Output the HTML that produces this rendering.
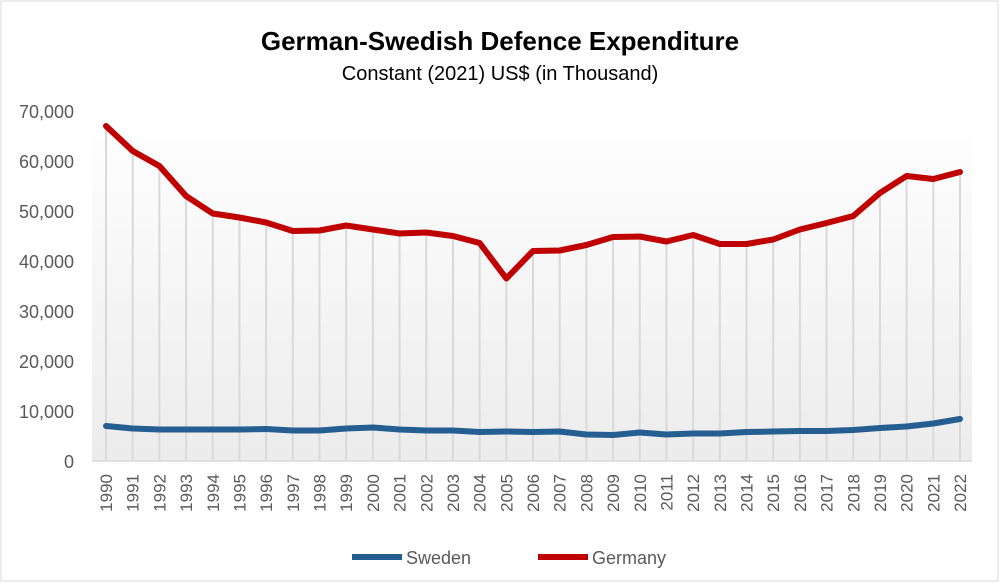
<!DOCTYPE html>
<html><head><meta charset="utf-8"><style>
body{margin:0;background:#fff;font-family:"Liberation Sans",sans-serif}
#wrap{position:relative;width:1000px;height:583px}
</style></head><body>
<div id="wrap">
<svg id="chart" width="1000" height="583">
<defs><linearGradient id="bg" x1="0" y1="0" x2="0" y2="1"><stop offset="0" stop-color="#ffffff"/><stop offset="1" stop-color="#ececec"/></linearGradient></defs>
<rect x="1" y="1" width="997" height="580" fill="#fff" stroke="#d9d9d9"/>
<text x="500" y="50" text-anchor="middle" font-size="26" font-weight="bold" fill="#000">German-Swedish Defence Expenditure</text>
<text x="500" y="80" text-anchor="middle" font-size="20" fill="#000">Constant (2021) US$ (in Thousand)</text>
<rect x="92" y="111" width="880" height="350" fill="url(#bg)"/>
<g id="grid"></g><g id="yt"></g><g id="xt"></g><g id="lines"></g>
<line x1="92" y1="461" x2="972" y2="461" stroke="#d9d9d9" stroke-width="1.5"/>
<g>
<line x1="352" y1="557" x2="402" y2="557" stroke="#255e91" stroke-width="6"/>
<text x="406" y="564" font-size="18" fill="#595959">Sweden</text>
<line x1="538" y1="557" x2="588" y2="557" stroke="#c00000" stroke-width="6"/>
<text x="592" y="564" font-size="18" fill="#595959">Germany</text>
</g>
</svg></div>
<script>
const years=[1990,1991,1992,1993,1994,1995,1996,1997,1998,1999,2000,2001,2002,2003,2004,2005,2006,2007,2008,2009,2010,2011,2012,2013,2014,2015,2016,2017,2018,2019,2020,2021,2022];
const germany=[67000,62000,59000,53000,49500,48700,47700,46000,46100,47100,46300,45500,45700,45000,43600,36500,42000,42100,43200,44800,44900,43900,45200,43400,43400,44300,46300,47600,49000,53600,57000,56400,57800];
const sweden=[7000,6500,6300,6300,6300,6300,6400,6100,6100,6500,6700,6300,6100,6100,5800,5900,5800,5900,5300,5200,5700,5300,5500,5500,5800,5900,6000,6000,6200,6600,6900,7500,8400];
const yTicks=[0,10000,20000,30000,40000,50000,60000,70000];
const NS="http://www.w3.org/2000/svg";
const x=i=>106+i*(854/(years.length-1));
const y=v=>461-v/70000*350;
function mk(t,a,p){const e=document.createElementNS(NS,t);for(const k in a)e.setAttribute(k,a[k]);document.getElementById(p).appendChild(e);return e;}
yTicks.forEach(v=>{const t=mk('text',{x:74,y:y(v)+7,'text-anchor':'end','font-size':18,fill:'#595959'},'yt');t.textContent=v.toLocaleString('en-US');

});
years.forEach((yr,i)=>{const l=mk('line',{x1:x(i),x2:x(i),y1:y(Math.max(germany[i],sweden[i])),y2:461,stroke:'#d9d9d9','stroke-width':2},'grid');


const t=mk('text',{x:0,y:0,'text-anchor':'end','font-size':17,fill:'#595959',transform:`translate(${x(i)+6},474) rotate(-90)`},'xt');t.textContent=yr;

});
function line(d,c,n){const p=mk('polyline',{points:d.map((v,i)=>x(i)+','+y(v)).join(' '),fill:'none',stroke:c,'stroke-width':6,'stroke-linejoin':'round','stroke-linecap':'round'},'lines');

}
line(sweden,'#255e91','sweden-line');
line(germany,'#c00000','germany-line');
</script></body></html>
